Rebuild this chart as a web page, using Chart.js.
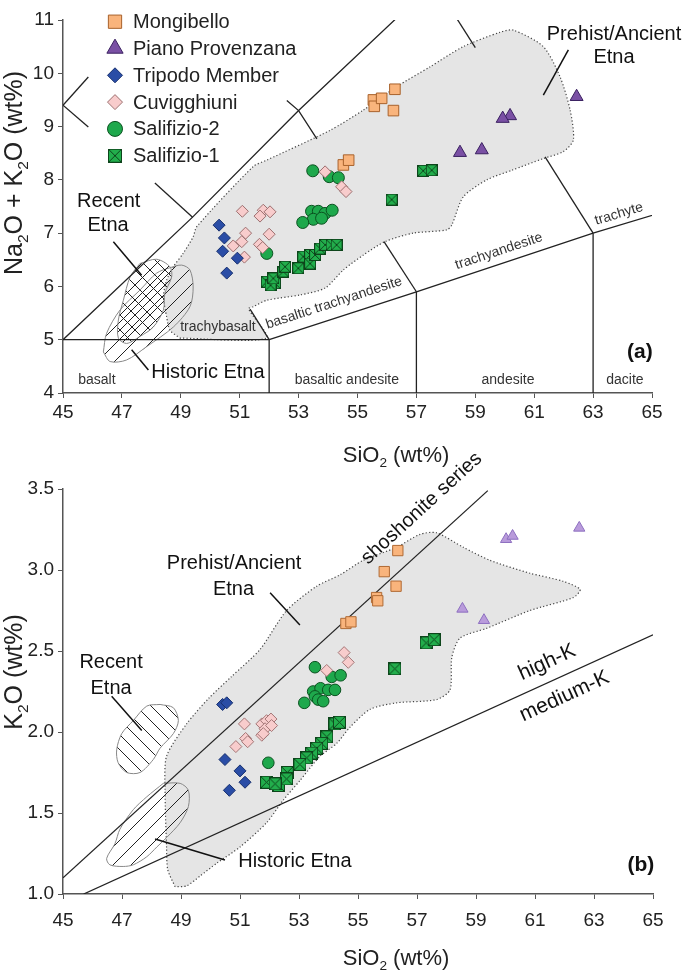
<!DOCTYPE html>
<html>
<head>
<meta charset="utf-8">
<script src="https://cdn.jsdelivr.net/npm/chart.js@4.4.0/dist/chart.umd.min.js"></script>
<style>
  html, body { margin: 0; padding: 0; background: #fff; }
  #wrap { position: relative; width: 685px; height: 970px; }
  canvas { position: absolute; left: 0; }
  #tas { top: 0; }
  #k2o { top: 420px; }
</style>
</head>
<body>
<div id="wrap">
  <canvas id="tas" width="685" height="470"></canvas>
  <canvas id="k2o" width="685" height="550"></canvas>
</div>
<script>
const FONT = '"Liberation Sans", Arial, Helvetica, sans-serif';

const seriesNames = ['Mongibello', 'Piano Provenzana', 'Tripodo Member', 'Cuvigghiuni', 'Salifizio-2', 'Salifizio-1'];

// (a) total alkali vs silica: [SiO2, Na2O+K2O]
const mongibelloTAS = [[55.54, 9.50], [55.57, 9.38], [55.82, 9.53], [56.27, 9.70], [56.22, 9.30], [54.52, 8.28], [54.70, 8.37]];
const pianoTAS = [[62.44, 9.56], [60.18, 9.20], [59.93, 9.15], [59.22, 8.56], [58.48, 8.51]];
const tripodoTAS = [[50.30, 7.15], [50.48, 6.91], [50.42, 6.66], [50.92, 6.53], [50.56, 6.25]];
const cuvigghiuniTAS = [[51.09, 7.41], [51.80, 7.43], [52.03, 7.40], [51.69, 7.32], [52.00, 6.98], [51.20, 7.00], [51.07, 6.84],
  [50.78, 6.76], [51.67, 6.79], [51.78, 6.73], [51.16, 6.55], [53.90, 8.15], [54.46, 7.87], [54.61, 7.78]];
const salifizio2TAS = [[53.48, 8.17], [54.04, 8.06], [54.35, 8.04], [53.44, 7.41], [53.67, 7.41], [53.90, 7.37], [54.14, 7.43],
  [53.50, 7.26], [53.78, 7.28], [53.14, 7.20], [51.92, 6.62]];
const salifizio1TAS = [[51.92, 6.09], [52.20, 6.06], [52.05, 6.02], [52.14, 6.15], [52.48, 6.28], [52.54, 6.37], [52.99, 6.34],
  [53.16, 6.56], [53.39, 6.59], [53.39, 6.43], [53.56, 6.59], [53.73, 6.71], [53.90, 6.78], [54.12, 6.78], [54.29, 6.78],
  [57.23, 8.17], [57.52, 8.18], [56.16, 7.63]];

// (b) K2O vs SiO2
const mongibelloK2O = [[56.35, 3.12], [55.89, 2.99], [56.29, 2.90], [55.63, 2.83], [55.67, 2.81], [54.59, 2.67], [54.76, 2.68]];
const pianoK2O = [[60.02, 3.19], [60.24, 3.21], [62.50, 3.26], [58.54, 2.76], [59.27, 2.69]];
const tripodoK2O = [[50.41, 2.17], [50.55, 2.18], [50.49, 1.83], [51.00, 1.76], [51.17, 1.69], [50.64, 1.64]];
const cuvigghiuniK2O = [[54.53, 2.49], [54.67, 2.43], [53.94, 2.38], [51.15, 2.05], [51.74, 2.05], [51.90, 2.07], [52.05, 2.08],
  [51.85, 2.02], [52.07, 2.04], [51.74, 1.98], [51.79, 1.99], [51.19, 1.96], [51.26, 1.94], [50.86, 1.91]];
const salifizio2K2O = [[53.54, 2.40], [54.11, 2.34], [54.41, 2.35], [53.48, 2.25], [53.73, 2.27], [53.99, 2.26], [54.22, 2.26],
  [53.54, 2.22], [53.65, 2.20], [53.82, 2.19], [53.18, 2.18], [51.96, 1.81]];
const salifizio1K2O = [[57.31, 2.55], [57.58, 2.57], [56.25, 2.39], [54.22, 2.05], [54.37, 2.06], [53.94, 1.97], [53.77, 1.93],
  [53.60, 1.90], [53.43, 1.87], [53.26, 1.84], [53.03, 1.80], [52.60, 1.75], [51.90, 1.69], [52.30, 1.67], [52.58, 1.71], [52.19, 1.68]];

// TAS field boundaries (only the pieces that show in the figure)
const tasBoundaries = [
  [[45, 5], [49.4, 7.3], [53, 9.3], [57.6, 11.7]],
  [[45, 5], [52, 5]],
  [[52, 4], [52, 5]],
  [[52, 5], [57, 5.9], [63, 7], [69, 8]],
  [[57, 4], [57, 5.9]],
  [[63, 4], [63, 7]],
  [[51.35, 5.575], [52, 5]],
  [[52.6, 9.49], [53, 9.3], [53.62, 8.77]],
  [[55.9, 6.84], [57, 5.9]],
  [[57.6, 11.7], [59.0, 10.48]],
  [[61.37, 8.43], [63, 7]],
  [[45, 9.4], [45.86, 8.99]],
  [[48.12, 7.94], [49.4, 7.3]],
  [[45, 9.4], [45.86, 9.93]]
];
const k2oBoundaries = [
  [[45, 1.10], [59.4, 3.49]],
  [[45.7, 1.0], [65, 2.60]]
];

// field outlines
const ancientTAS = [[48.97, 5.03], [51.9, 5.03], [51.3, 5.58], [51.46, 5.62], [51.92, 5.74], [53.05, 5.84], [53.90, 5.97],
  [54.52, 6.31], [55.20, 6.59], [55.93, 6.84], [56.89, 7.0], [58.03, 7.06], [58.20, 7.15], [58.59, 7.68], [59.39, 8.0],
  [60.24, 8.18], [61.31, 8.40], [61.99, 8.53], [62.33, 8.75], [62.22, 9.31], [61.88, 9.93], [61.31, 10.50], [60.29, 10.81],
  [59.84, 10.77], [58.59, 10.50], [57.46, 10.12], [56.33, 9.75], [55.20, 9.31], [54.07, 8.93], [51.92, 8.37], [51.46, 8.25],
  [49.54, 7.12], [49.42, 6.93], [49.08, 6.62], [48.75, 6.37], [48.52, 6.12], [48.41, 5.81], [48.52, 5.43], [48.63, 5.18]];
const recentTAS = [[47.61, 6.43], [48.18, 6.51], [48.63, 6.37], [48.69, 6.18], [48.46, 5.87], [48.41, 5.56], [48.07, 5.24],
  [47.61, 5.06], [47.16, 4.93], [46.88, 5.03], [46.88, 5.37], [47.05, 5.74], [47.28, 6.18]];
const historicTAS = [[46.37, 4.77], [46.60, 4.59], [47.16, 4.62], [47.84, 4.87], [48.75, 5.24], [49.31, 5.62], [49.42, 5.99],
  [49.31, 6.31], [49.03, 6.40], [48.63, 6.35], [48.18, 6.25], [47.61, 5.93], [46.94, 5.56], [46.48, 5.12]];

const ancientK2O = [[48.80, 1.045], [48.55, 1.15], [48.51, 1.29], [48.46, 1.64], [48.51, 1.85], [49.19, 2.05], [49.95, 2.21],
  [50.7, 2.34], [51.68, 2.51], [52.58, 2.75], [53.60, 2.90], [54.39, 2.97], [55.18, 3.06], [56.31, 3.14], [57.10, 3.22],
  [57.66, 3.23], [58.57, 3.14], [59.47, 3.06], [60.83, 2.98], [61.96, 2.93], [62.53, 2.88], [62.30, 2.83], [60.83, 2.75],
  [59.36, 2.64], [58.46, 2.58], [58.18, 2.46], [58.12, 2.26], [57.66, 2.20], [56.31, 2.18], [55.41, 2.14], [54.73, 2.03],
  [54.28, 1.93], [53.71, 1.85], [53.03, 1.70], [52.47, 1.58], [51.90, 1.44], [51.0, 1.29], [50.21, 1.19], [49.64, 1.11], [49.19, 1.05]];
const recentK2O = [[48.29, 2.17], [48.74, 2.15], [48.91, 2.07], [48.74, 1.99], [48.29, 1.90], [48.06, 1.83], [47.61, 1.75],
  [47.16, 1.75], [46.87, 1.81], [46.82, 1.89], [46.99, 1.99], [47.38, 2.07], [47.84, 2.16]];
const historicK2O = [[48.40, 1.683], [48.97, 1.683], [49.25, 1.64], [49.25, 1.54], [48.97, 1.44], [48.52, 1.35], [48.18, 1.29],
  [47.84, 1.23], [47.38, 1.18], [47.04, 1.17], [46.59, 1.18], [46.48, 1.22], [46.76, 1.31], [46.93, 1.40], [47.38, 1.52], [47.84, 1.60]];

const toXY = arr => arr.map(([x, y]) => ({ x, y }));

// green square with a cross, for Salifizio-1
function crossBox(size) {
  const c = document.createElement('canvas');
  c.width = c.height = size;
  const g = c.getContext('2d');
  g.fillStyle = '#22ae4c';
  g.fillRect(0, 0, size, size);
  g.strokeStyle = '#0d451b';
  g.lineWidth = 1;
  g.strokeRect(0.5, 0.5, size - 1, size - 1);
  g.beginPath();
  g.moveTo(1, 1); g.lineTo(size - 1, size - 1);
  g.moveTo(size - 1, 1); g.lineTo(1, size - 1);
  g.stroke();
  return c;
}

function hatch(ctx, size, dirs) {
  const c = document.createElement('canvas');
  c.width = c.height = size;
  const g = c.getContext('2d');
  g.strokeStyle = '#222';
  g.lineWidth = 1;
  g.beginPath();
  if (dirs.includes('/')) {
    g.moveTo(0, size); g.lineTo(size, 0);
    g.moveTo(-2, 2); g.lineTo(2, -2);
    g.moveTo(size - 2, size + 2); g.lineTo(size + 2, size - 2);
  }
  if (dirs.includes('\\')) {
    g.moveTo(0, 0); g.lineTo(size, size);
    g.moveTo(size - 2, -2); g.lineTo(size + 2, 2);
    g.moveTo(-2, size - 2); g.lineTo(2, size + 2);
  }
  g.stroke();
  return ctx.createPattern(c, 'repeat');
}

const tasMarks = [
  { style: 'rect', r: 7.5, bg: '#f9b47c', bd: '#a8622c' },
  { style: 'triangle', r: 7.5, bg: '#7a50a4', bd: '#3a2060' },
  { style: 'rectRot', r: 6, bg: '#2a4da6', bd: '#17306e' },
  { style: 'rectRot', r: 6, bg: '#f8cccc', bd: '#9c6f6f' },
  { style: 'circle', r: 6, bg: '#1ea84c', bd: '#0b5220' },
  { style: crossBox(12), r: 6 }
];
const k2oMarks = [
  { style: 'rect', r: 7.3, bg: '#f9b47c', bd: '#b06a34' },
  { style: 'triangle', r: 6.5, bg: '#b99bdb', bd: '#8d6fc0' },
  { style: 'rectRot', r: 6, bg: '#2a4da6', bd: '#17306e' },
  { style: 'rectRot', r: 6, bg: '#f8cccc', bd: '#a47777' },
  { style: 'circle', r: 5.8, bg: '#1ea84c', bd: '#0b5220' },
  { style: crossBox(13), r: 6.5 }
];
const legendMarks = tasMarks.map((m, i) => i === 5 ? { style: crossBox(14), r: 7 } : { ...m, r: m.r * 1.25 });

function markerSets(groups, marks) {
  return groups.map((g, i) => ({
    label: seriesNames[i],
    data: toXY(g),
    pointStyle: marks[i].style,
    pointRadius: marks[i].r,
    pointBackgroundColor: marks[i].bg,
    pointBorderColor: marks[i].bd,
    pointBorderWidth: 1,
    order: 0
  }));
}

function lineSets(lines) {
  return lines.map(l => ({
    data: toXY(l),
    showLine: true,
    pointRadius: 0,
    borderColor: '#222',
    borderWidth: 1.3,
    order: 10
  }));
}

function regionSet(poly, extra) {
  return Object.assign({
    data: toXY(poly.concat([poly[0]])),
    showLine: true,
    pointRadius: 0,
    fill: 'shape',
    tension: 0.3,
    borderColor: '#888',
    borderWidth: 1,
    order: 20
  }, extra);
}

// text with "_2" style subscripts, centred on x, baseline at y
function richText(ctx, str, x, y, size) {
  const parts = str.split(/_(\d)/);
  const fontFor = i => `${i % 2 ? size * 0.62 : size}px ${FONT}`;
  let w = 0;
  parts.forEach((p, i) => { ctx.font = fontFor(i); w += ctx.measureText(p).width; });
  let cx = x - w / 2;
  ctx.textAlign = 'left';
  ctx.textBaseline = 'alphabetic';
  parts.forEach((p, i) => {
    ctx.font = fontFor(i);
    ctx.fillText(p, cx, y + (i % 2 ? size * 0.22 : 0));
    cx += ctx.measureText(p).width;
  });
}

function notesPlugin(cfg) {
  return {
    id: 'notes',
    afterDatasetsDraw(chart) {
      const { ctx } = chart;
      const sx = chart.scales.x, sy = chart.scales.y;
      ctx.save();
      ctx.strokeStyle = '#111';
      ctx.lineWidth = 1.5;
      cfg.leaders.forEach(([a, b]) => {
        ctx.beginPath();
        ctx.moveTo(sx.getPixelForValue(a[0]), sy.getPixelForValue(a[1]));
        ctx.lineTo(sx.getPixelForValue(b[0]), sy.getPixelForValue(b[1]));
        ctx.stroke();
      });
      cfg.texts.forEach(n => {
        ctx.save();
        ctx.translate(sx.getPixelForValue(n.x), sy.getPixelForValue(n.y));
        if (n.rot) ctx.rotate(n.rot * Math.PI / 180);
        ctx.font = `${n.bold ? 'bold ' : ''}${n.size || 14}px ${FONT}`;
        ctx.fillStyle = n.color || '#111';
        ctx.textAlign = 'center';
        ctx.textBaseline = 'middle';
        ctx.fillText(n.t, 0, 0);
        ctx.restore();
      });
      if (cfg.legend) {
        legendMarks.forEach((m, i) => {
          const ly = 21.7 + 26.8 * i;
          ctx.fillStyle = m.bg || '#000';
          ctx.strokeStyle = m.bd || '#000';
          ctx.lineWidth = 1;
          Chart.helpers.drawPoint(ctx, { pointStyle: m.style, radius: m.r, borderWidth: 1, rotation: 0 }, 115, ly);
          ctx.fillStyle = '#222';
          ctx.font = `20px ${FONT}`;
          ctx.textAlign = 'left';
          ctx.textBaseline = 'middle';
          ctx.fillText(seriesNames[i], 133, ly + 1);
        });
      }
      ctx.restore();
    },
    afterDraw(chart) {
      const { ctx } = chart;
      ctx.save();
      ctx.fillStyle = '#222';
      richText(ctx, 'SiO_2 (wt%)', 396, cfg.xTitleY + 8, 22);
      ctx.translate(13, cfg.yTitleY);
      ctx.rotate(-Math.PI / 2);
      richText(ctx, cfg.yTitle, 0, 9, 25);
      ctx.restore();
    }
  };
}

function makeChart(canvasId, cfg) {
  const ctx = document.getElementById(canvasId).getContext('2d');
  const tickFont = { size: 19, family: FONT };
  return new Chart(ctx, {
    type: 'scatter',
    data: { datasets: cfg.datasets(ctx) },
    options: {
      responsive: false,
      animation: false,
      events: [],
      layout: { padding: cfg.padding },
      plugins: { legend: { display: false }, tooltip: { enabled: false } },
      scales: {
        x: {
          type: 'linear', min: 45, max: 65,
          ticks: { stepSize: 2, color: '#222', font: tickFont, padding: cfg.xTickPad, maxRotation: 0 },
          grid: { drawOnChartArea: false, tickLength: 5, color: '#555' },
          border: { color: '#555', width: 1.5 },
          afterFit: s => { s.height = cfg.xAxisHeight; }
        },
        y: {
          type: 'linear', min: cfg.yMin, max: cfg.yMax,
          ticks: { stepSize: cfg.yStep, color: '#222', font: tickFont, padding: 4, callback: cfg.yFmt },
          grid: { drawOnChartArea: false, tickLength: 5, color: '#555' },
          border: { color: '#555', width: 1.5 },
          afterFit: s => { s.width = 63; }
        }
      }
    },
    plugins: [notesPlugin(cfg)]
  });
}

makeChart('tas', {
  padding: { top: 20, right: 33, left: 0, bottom: 0 },
  xAxisHeight: 77,
  xTickPad: 3,
  yMin: 4, yMax: 11, yStep: 1,
  yFmt: v => v,
  yTitle: 'Na_2O + K_2O (wt%)',
  yTitleY: 173,
  xTitleY: 454,
  legend: true,
  datasets: ctx => [
    ...markerSets([mongibelloTAS, pianoTAS, tripodoTAS, cuvigghiuniTAS, salifizio2TAS, salifizio1TAS], tasMarks),
    ...lineSets(tasBoundaries),
    regionSet(recentTAS, { backgroundColor: hatch(ctx, 15, '/\\') }),
    regionSet(historicTAS, { backgroundColor: hatch(ctx, 17, '/') }),
    regionSet(ancientTAS, { backgroundColor: '#e5e5e5', borderColor: '#444', borderWidth: 1.2, borderDash: [1.2, 2.2], tension: 0.25, order: 30 })
  ],
  texts: [
    { t: 'trachybasalt', x: 50.26, y: 5.24, color: '#333' },
    { t: 'basaltic trachyandesite', x: 54.2, y: 5.69, color: '#333', rot: -18.1 },
    { t: 'trachyandesite', x: 59.8, y: 6.66, color: '#333', rot: -18.3 },
    { t: 'trachyte', x: 63.88, y: 7.36, color: '#333', rot: -16.8 },
    { t: 'basalt', x: 46.15, y: 4.24, color: '#333' },
    { t: 'basaltic andesite', x: 54.64, y: 4.24, color: '#333' },
    { t: 'andesite', x: 60.11, y: 4.24, color: '#333' },
    { t: 'dacite', x: 64.08, y: 4.24, color: '#333' },
    { t: '(a)', x: 64.59, y: 4.77, size: 21, bold: true },
    { t: 'Recent', x: 46.55, y: 7.59, size: 20 },
    { t: 'Etna', x: 46.53, y: 7.15, size: 20 },
    { t: 'Historic Etna', x: 49.92, y: 4.39, size: 20 },
    { t: 'Prehist/Ancient', x: 63.71, y: 10.72, size: 20 },
    { t: 'Etna', x: 63.71, y: 10.30, size: 20 }
  ],
  leaders: [
    [[46.71, 6.84], [47.67, 6.21]],
    [[47.33, 4.81], [47.90, 4.43]],
    [[62.16, 10.44], [61.31, 9.59]]
  ]
});

makeChart('k2o', {
  padding: { top: 69, right: 32, left: 0, bottom: 0 },
  xAxisHeight: 76,
  xTickPad: 10,
  yMin: 1, yMax: 3.5, yStep: 0.5,
  yFmt: v => v.toFixed(1),
  yTitle: 'K_2O (wt%)',
  yTitleY: 252,
  xTitleY: 537,
  legend: false,
  datasets: ctx => [
    ...markerSets([mongibelloK2O, pianoK2O, tripodoK2O, cuvigghiuniK2O, salifizio2K2O, salifizio1K2O], k2oMarks),
    ...lineSets(k2oBoundaries),
    regionSet(recentK2O, { backgroundColor: hatch(ctx, 15, '\\') }),
    regionSet(historicK2O, { backgroundColor: hatch(ctx, 18, '/') }),
    regionSet(ancientK2O, { backgroundColor: '#e5e5e5', borderColor: '#444', borderWidth: 1.2, borderDash: [1.2, 2.2], tension: 0.25, order: 30 })
  ],
  texts: [
    { t: 'shoshonite series', x: 57.16, y: 3.38, size: 20, rot: -42.4 },
    { t: 'high-K', x: 61.41, y: 2.43, size: 21, rot: -24.5 },
    { t: 'medium-K', x: 62.0, y: 2.22, size: 21, rot: -24.5 },
    { t: 'Prehist/Ancient', x: 50.80, y: 3.04, size: 20 },
    { t: 'Etna', x: 50.78, y: 2.88, size: 20 },
    { t: 'Recent', x: 46.63, y: 2.43, size: 20 },
    { t: 'Etna', x: 46.63, y: 2.27, size: 20 },
    { t: 'Historic Etna', x: 52.86, y: 1.20, size: 20 },
    { t: '(b)', x: 64.59, y: 1.18, size: 21, bold: true }
  ],
  leaders: [
    [[52.02, 2.86], [53.03, 2.66]],
    [[46.65, 2.22], [47.67, 2.01]],
    [[48.12, 1.34], [50.49, 1.21]]
  ]
});
</script>
</body>
</html>
